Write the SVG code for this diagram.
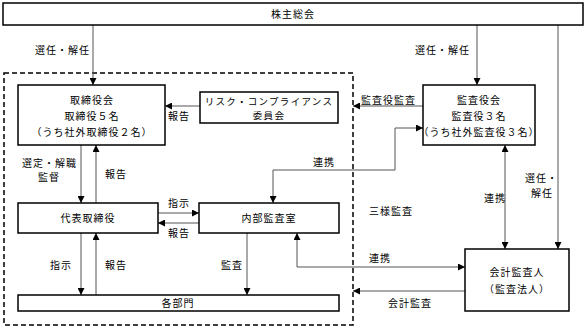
<svg xmlns="http://www.w3.org/2000/svg" width="585" height="329" viewBox="0 0 585 329">
<defs>
<marker id="ah" viewBox="0 0 10 10" refX="10" refY="5" markerWidth="7" markerHeight="7" markerUnits="userSpaceOnUse" orient="auto-start-reverse">
<path d="M0,0 L10,5 L0,10 z" fill="#000"/>
</marker>
<style>
text{font-family:"Noto Sans CJK JP","Noto Sans CJK SC",sans-serif;font-size:10px;fill:#000;letter-spacing:1px}
.box{fill:#fff;stroke:#000;stroke-width:1.5}
.c{fill:none;stroke:#555;stroke-width:1}
.a{marker-end:url(#ah)}
.b{marker-start:url(#ah);marker-end:url(#ah)}
.m{text-anchor:middle}
.s{font-size:9.5px;letter-spacing:1.3px}
.dash{fill:none;stroke:#000;stroke-width:1.5;stroke-dasharray:5,3}
</style>
</defs>
<rect class="dash" x="4" y="73" width="349" height="252"/>
<g id="connectors">
<line class="c a" x1="93" y1="25" x2="93" y2="85"/>
<line class="c a" x1="477" y1="25" x2="477" y2="85"/>
<line class="c a" x1="558" y1="25" x2="558" y2="249"/>
<line class="c a" x1="200" y1="106" x2="165" y2="106"/>
<line class="c a" x1="423" y1="106" x2="353" y2="106"/>
<polyline class="c b" points="423,128 395,128 395,170 273,170 273,203"/>
<line class="c b" x1="505" y1="145" x2="505" y2="249"/>
<line class="c a" x1="81" y1="145" x2="81" y2="203"/>
<line class="c a" x1="96" y1="203" x2="96" y2="145"/>
<line class="c a" x1="158" y1="213" x2="199" y2="213"/>
<line class="c a" x1="199" y1="223" x2="158" y2="223"/>
<line class="c a" x1="81" y1="233" x2="81" y2="295"/>
<line class="c a" x1="96" y1="295" x2="96" y2="233"/>
<line class="c a" x1="247" y1="233" x2="247" y2="295"/>
<polyline class="c b" points="297,233 297,267 465,267"/>
<line class="c a" x1="465" y1="291" x2="353" y2="291"/>
</g>
<g id="labels">
<text x="35" y="54">選任・解任</text>
<text x="415" y="54">選任・解任</text>
<text x="525" y="182">選任・</text>
<text x="531" y="197">解任</text>
<text x="168" y="120">報告</text>
<text x="361" y="104">監査役監査</text>
<text x="313" y="166">連携</text>
<text x="484" y="202">連携</text>
<text x="22" y="167">選定・解職</text>
<text x="38" y="181">監督</text>
<text x="105" y="178">報告</text>
<text x="168" y="207">指示</text>
<text x="168" y="237">報告</text>
<text x="50" y="269">指示</text>
<text x="105" y="269">報告</text>
<text x="221" y="269">監査</text>
<text x="369" y="262">連携</text>
<text x="369" y="215">三様監査</text>
<text x="388" y="307">会計監査</text>
</g>
<g id="shareholders">
<rect class="box" x="3" y="3" width="580" height="22"/>
<text class="m" x="293" y="18">株主総会</text>
</g>
<g id="board">
<rect class="box" x="18" y="85" width="147" height="60"/>
<text class="m" x="92" y="104">取締役会</text>
<text class="m" x="92" y="120">取締役５名</text>
<text class="m" x="92" y="136">（うち社外取締役２名）</text>
</g>
<g id="risk">
<rect class="box" x="200" y="92" width="138" height="31"/>
<text class="m s" x="269" y="105">リスク・コンプライアンス</text>
<text class="m s" x="269" y="119">委員会</text>
</g>
<g id="auditors">
<rect class="box" x="423" y="85" width="112" height="60"/>
<text class="m" x="479" y="104">監査役会</text>
<text class="m" x="479" y="120">監査役３名</text>
<text class="m" x="479" y="136">（うち社外監査役３名）</text>
</g>
<g id="ceo">
<rect class="box" x="18" y="203" width="140" height="30"/>
<text class="m" x="88" y="222">代表取締役</text>
</g>
<g id="internal">
<rect class="box" x="199" y="203" width="140" height="30"/>
<text class="m" x="269" y="222">内部監査室</text>
</g>
<g id="departments">
<rect class="box" x="18" y="295" width="321" height="16"/>
<text class="m" x="178" y="307">各部門</text>
</g>
<g id="accountant">
<rect class="box" x="465" y="249" width="104" height="62"/>
<text class="m" x="517" y="276">会計監査人</text>
<text class="m" x="517" y="293">（監査法人）</text>
</g>
</svg>
